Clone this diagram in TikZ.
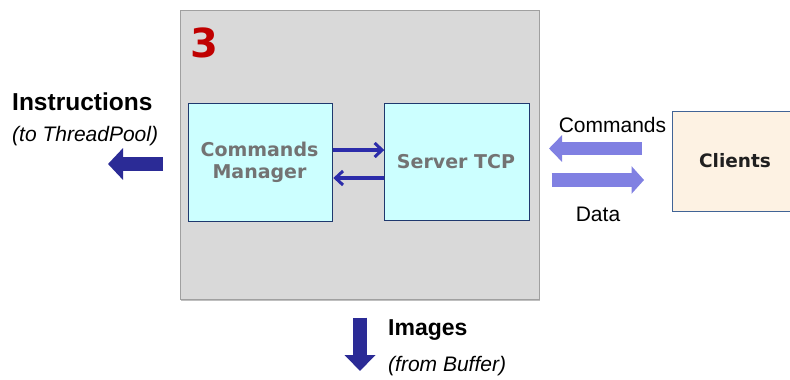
\documentclass[tikz,border=0pt]{standalone}
\usepackage{fontspec}
\setmainfont{Liberation Sans}
\newfontfamily\vfont{DejaVu Sans}
\usetikzlibrary{arrows.meta}
\definecolor{panelgray}{RGB}{217,217,217}
\definecolor{panelline}{RGB}{160,160,160}
\definecolor{cyanfill}{RGB}{204,255,255}
\definecolor{boxline}{RGB}{31,56,110}
\definecolor{boxtext}{RGB}{115,115,115}
\definecolor{smallarrow}{RGB}{44,44,170}
\definecolor{darkarrow}{RGB}{43,43,150}
\definecolor{lightarrow}{RGB}{128,128,226}
\definecolor{clientfill}{RGB}{253,242,227}
\definecolor{clientline}{RGB}{65,100,150}
\definecolor{numred}{RGB}{192,0,0}
\tikzset{
  inner/.style={draw=boxline, line width=1pt, fill=cyanfill},
  intext/.style={font=\vfont\fontsize{19}{22}\selectfont\bfseries, text=boxtext, align=center},
  thin arrow/.style={draw=smallarrow, line width=3.2pt, -{Straight Barb[length=7.5pt,width=14pt,line width=3pt]}},
  lbl/.style={font=\fontsize{21}{24}\selectfont, inner sep=0pt},
  blbl/.style={font=\fontsize{23}{26}\selectfont\bfseries, inner sep=0pt, anchor=west},
  ilbl/.style={font=\fontsize{21}{24}\selectfont\itshape, inner sep=0pt, anchor=west}
}
\begin{document}
\begin{tikzpicture}[x=1pt,y=-1pt]
\useasboundingbox (0,0) rectangle (790,380);
\fill[white] (0,0) rectangle (790,380);
% panel
\draw[panelline!80!black, line width=1.5pt, opacity=0.5] (181,300.5) -- (540,300.5);
\node[draw=panelline, fill=panelgray, line width=1pt, minimum width=359pt, minimum height=289pt, inner sep=0pt, anchor=north west] (panel) at (180,10) {};
\node[font=\vfont\fontsize{40}{40}\selectfont\bfseries, text=numred, inner sep=0pt] (num) at (204.5,42.5) {3};
% inner boxes
\node[inner, minimum width=144pt, minimum height=118.6pt, inner sep=0pt, anchor=north west] (cm) at (188.3,102.7) {};
\node[inner, minimum width=144.4pt, minimum height=117.6pt, inner sep=0pt, anchor=north west] (tcp) at (384.3,102.7) {};
\node[intext] (cmt) at (259.5,162) {Commands\\Manager};
\node[intext] (tcpt) at (456,161.5) {Server TCP};
\coordinate (a1s) at (cm.east |- 0,150);
\coordinate (a1e) at (tcp.west |- 0,150);
\coordinate (a2s) at (tcp.west |- 0,178);
\coordinate (a2e) at (cm.east |- 0,178);
\draw[thin arrow] (a1s) -- (a1e);
\draw[thin arrow] (a2s) -- (a2e);
% clients
\node[draw=clientline, fill=clientfill, line width=1pt, minimum width=125pt, minimum height=100pt, inner sep=0pt, anchor=north west] (cl) at (671.7,110.7) {};
\node[font=\vfont\fontsize{18.5}{22}\selectfont\bfseries, text=black!88, inner sep=0pt] (clt) at (735,161) {Clients};
% client arrows
\coordinate (c1s) at (641.7,148.5);
\coordinate (c1e) at (549,148.5);
\coordinate (c2s) at (551.7,180);
\coordinate (c2e) at (644,180);
\draw[lightarrow, line width=13.5pt, -{Triangle[length=13pt,width=26pt]}] (c1s) -- (c1e);
\draw[lightarrow, line width=14pt, -{Triangle[length=12.5pt,width=27pt]}] (c2s) -- (c2e);
\node[lbl] (cmdl) at (612.5,125) {Commands};
\node[lbl] (datal) at (598,214) {Data};
% instructions
\node[blbl, font=\fontsize{24.5}{27}\selectfont\bfseries] (ins) at (12,102) {Instructions};
\node[ilbl] (insb) at (12,136.5) {(to ThreadPool)};
\coordinate (i1s) at (163,164);
\coordinate (i1e) at (108,164);
\draw[darkarrow, line width=14pt, -{Triangle[length=15pt,width=31pt]}] (i1s) -- (i1e);
% images
\node[blbl] (img) at (388,330) {Images};
\node[ilbl] (imgb) at (388,366) {(from Buffer)};
\coordinate (m1s) at (360,317.5);
\coordinate (m1e) at (360,371);
\draw[darkarrow, line width=14pt, -{Triangle[length=16pt,width=30pt]}] (m1s) -- (m1e);
\end{tikzpicture}
\end{document}
